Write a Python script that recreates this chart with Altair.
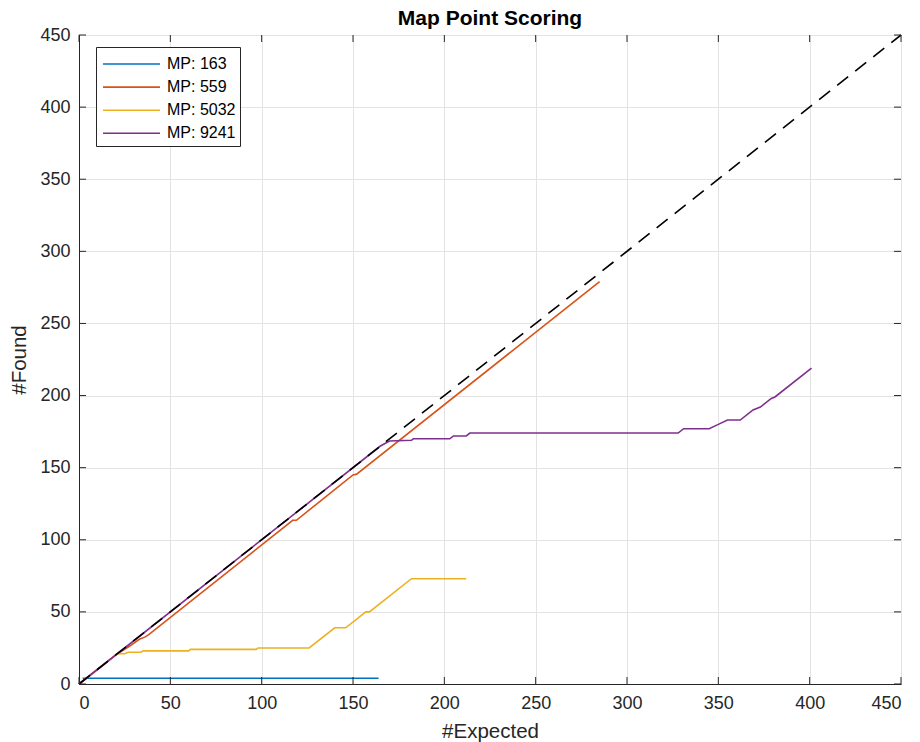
import altair as alt
import pandas as pd

# ---------------- data ----------------
series_names = ["MP: 163", "MP: 559", "MP: 5032", "MP: 9241"]
series_colors = ["#0072BD", "#D95319", "#EDB120", "#7E2F8E"]

mp163_x = [2, 164]
mp163_y = [4, 4]

mp559_x = [0, 20, 28, 33, 36, 38, 117, 119, 150, 152, 285]
mp559_y = [0, 20, 26.5, 31, 32.5, 34, 113.5, 113.5, 145, 145.5, 279]

mp5032_x = [0, 21, 25, 27, 34, 35, 60, 61, 97, 98, 126, 140, 146, 157, 159, 182, 212]
mp5032_y = [0, 21, 21, 22, 22, 23, 23, 24, 24, 25, 25, 39, 39, 50, 50, 73, 73]

mp9241_x = [0, 165, 170, 182, 183, 203, 205, 212, 214, 328, 331, 345, 350, 355, 362, 369, 373, 379, 381, 401]
mp9241_y = [0, 165, 168.5, 169, 170, 170, 172, 172, 174, 174, 177, 177, 180, 183, 183, 190, 192, 198, 199, 219]

ref_x = [0, 450]
ref_y = [0, 450]

tick_values = [0, 50, 100, 150, 200, 250, 300, 350, 400, 450]

# ---------------- build tables ----------------
frames = []
for name, xs, ys in zip(series_names,
                        [mp163_x, mp559_x, mp5032_x, mp9241_x],
                        [mp163_y, mp559_y, mp5032_y, mp9241_y]):
    frames.append(pd.DataFrame({"x": xs, "y": ys, "series": name, "idx": range(len(xs))}))
df = pd.concat(frames, ignore_index=True)
ref_df = pd.DataFrame({"x": ref_x, "y": ref_y})
ticks_df = pd.DataFrame({"t": tick_values})

W, H = 822, 649
FONT = "Liberation Sans"
scale = alt.Scale(domain=[0, 450], nice=False, zero=False)

x_enc = alt.X("x:Q", scale=scale, title="#Expected",
              axis=alt.Axis(values=tick_values, tickSize=0, labelPadding=10,
                            titlePadding=9))
y_enc = alt.Y("y:Q", scale=scale, title="#Found",
              axis=alt.Axis(values=tick_values, tickSize=0, labelPadding=9,
                            titlePadding=10))

lines = alt.Chart(df).mark_line(strokeWidth=1.6).encode(
    x=x_enc,
    y=y_enc,
    order="idx:Q",
    color=alt.Color("series:N",
                    scale=alt.Scale(domain=series_names, range=series_colors),
                    sort=series_names,
                    legend=alt.Legend(title=" ", titleFontSize=1, titlePadding=7,
                                      orient="none", legendX=17, legendY=12,
                                      symbolType="stroke", symbolSize=3250,
                                      symbolOffset=2,
                                      symbolStrokeWidth=1.6, labelFontSize=16,
                                      labelOffset=6, clipHeight=10, rowPadding=7.1,
                                      padding=4, strokeColor="#262626",
                                      fillColor="white", labelColor="#000000",
                                      labelFont=FONT)),
)

ref = alt.Chart(ref_df).mark_line(color="black", strokeWidth=1.6, strokeDash=[14, 9]).encode(
    x=alt.X("x:Q", scale=scale),
    y=alt.Y("y:Q", scale=scale),
)

tick_color = "#262626"
bottom_ticks = alt.Chart(ticks_df).mark_rule(color=tick_color, strokeWidth=1).encode(
    x=alt.X("t:Q", scale=scale), y=alt.value(H), y2=alt.value(H - 7))
top_ticks = alt.Chart(ticks_df).mark_rule(color=tick_color, strokeWidth=1).encode(
    x=alt.X("t:Q", scale=scale), y=alt.value(0), y2=alt.value(7))
left_ticks = alt.Chart(ticks_df).mark_rule(color=tick_color, strokeWidth=1).encode(
    y=alt.Y("t:Q", scale=scale), x=alt.value(0), x2=alt.value(7))
right_ticks = alt.Chart(ticks_df).mark_rule(color=tick_color, strokeWidth=1).encode(
    y=alt.Y("t:Q", scale=scale), x=alt.value(W), x2=alt.value(W - 7))

chart = alt.layer(lines, ref, bottom_ticks, top_ticks, left_ticks, right_ticks).properties(
    width=W, height=H,
    background="white",
    title=alt.TitleParams("Map Point Scoring", fontSize=21, fontWeight="bold",
                          font=FONT, color="#000000", offset=-3, anchor="middle"),
    autosize=alt.AutoSizeParams(type="none"),
    padding={"left": 79, "top": 35, "right": 19, "bottom": 58},
).configure_view(
    stroke="#262626", strokeWidth=1
).configure_axis(
    labelFont=FONT, titleFont=FONT,
    labelFontSize=18, titleFontSize=20.5, titleFontWeight="normal",
    labelColor="#262626", titleColor="#262626",
    domainColor="#262626", domainWidth=1,
    gridColor="#e3e3e3", gridWidth=1, grid=True,
)

chart.save("out.html", embed_options={"renderer": "svg", "actions": False})
